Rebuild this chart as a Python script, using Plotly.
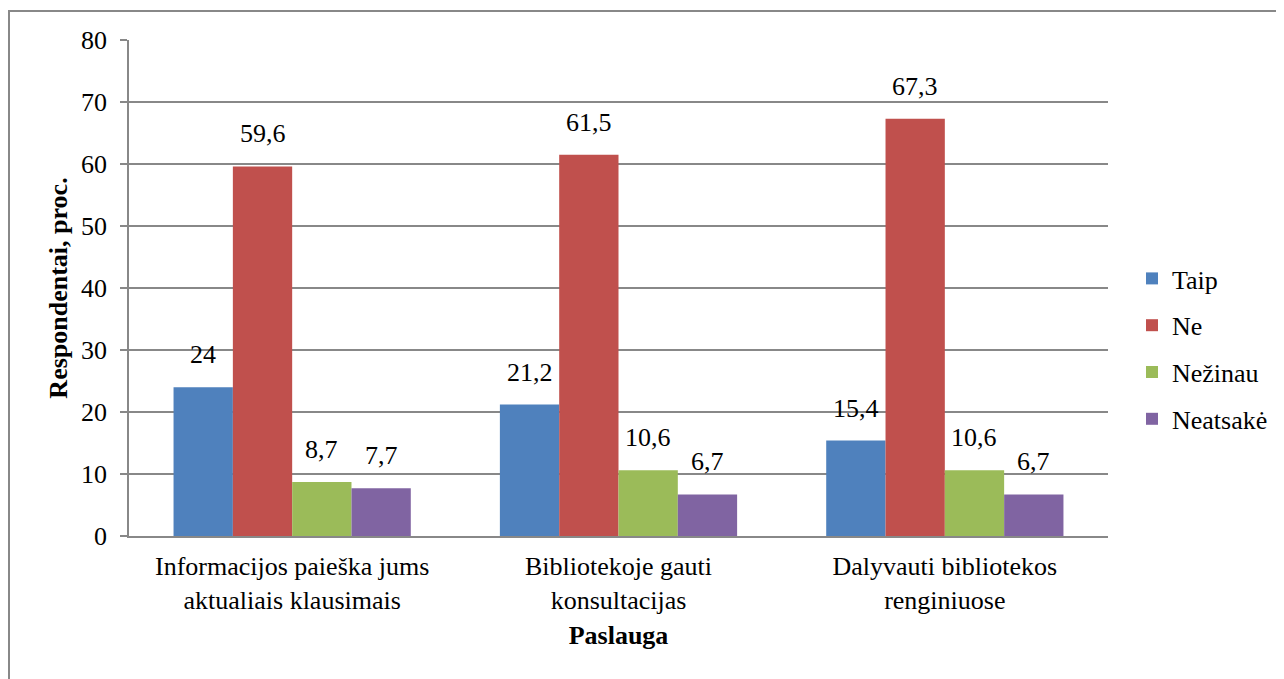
import plotly.graph_objects as go

categories = ["Informacijos paieška jums<br>aktualiais klausimais",
              "Bibliotekoje gauti<br>konsultacijas",
              "Dalyvauti bibliotekos<br>renginiuose"]
series_names = ["Taip", "Ne", "Nežinau", "Neatsakė"]
taip = [24, 21.2, 15.4]
ne = [59.6, 61.5, 67.3]
nezinau = [8.7, 10.6, 10.6]
neatsake = [7.7, 6.7, 6.7]
colors = ["#4F81BD", "#C0504D", "#9BBB59", "#8064A2"]
y_ticks = [0, 10, 20, 30, 40, 50, 60, 70, 80]

FONT = "Liberation Serif"
FS = 26

fig = go.Figure()
all_vals = [taip, ne, nezinau, neatsake]
for i, (name, vals) in enumerate(zip(series_names, all_vals)):
    fig.add_trace(go.Bar(
        x=categories, y=vals, name=name,
        marker=dict(color=colors[i], line=dict(width=0)),
        legendgroup=name,
    ))

OFF = 8
W, H = 1284 - 2 * OFF, 676
L = 129 - OFF
T = 40 - OFF
R = W - (1108 - OFF)
B = H - (536 - OFF)
pw, ph = W - L - R, H - T - B
BARGAP = 0.273
bar_px = pw / len(categories) * (1 - BARGAP) / len(series_names)

def px(page_x):
    return (page_x - OFF - L) / pw

def py(page_y):
    return (H - B - (page_y - OFF)) / ph

def fmt(v):
    return ("%g" % v).replace(".", ",")

annotations = []
for i, vals in enumerate(all_vals):
    for j, v in enumerate(vals):
        annotations.append(dict(
            x=categories[j], y=v, xref="x", yref="y", text=fmt(v), showarrow=False,
            xshift=(i - (len(series_names) - 1) / 2) * bar_px, yshift=16, yanchor="bottom",
            font=dict(family=FONT, size=FS, color="black")))

fig.update_layout(
    width=W, height=H,
    margin=dict(l=L, r=R, t=T, b=B, autoexpand=False),
    paper_bgcolor="white", plot_bgcolor="white",
    barmode="group", bargap=BARGAP, bargroupgap=0,
    font=dict(family=FONT, size=FS, color="black"),
    legend=dict(x=px(1132), y=py(255), xanchor="left", yanchor="top",
                font=dict(family=FONT, size=FS, color="black"),
                tracegroupgap=10, itemwidth=30, bgcolor="rgba(0,0,0,0)"),
    xaxis=dict(showline=True, linecolor="#888888", linewidth=1.5,
               ticks="", ticklabelstandoff=6,
               tickfont=dict(family=FONT, size=FS, color="black"),
               title=dict(text="<b>Paslauga</b>", font=dict(family=FONT, size=FS, color="black"), standoff=12)),
    yaxis=dict(range=[0, 80], tickvals=y_ticks, showgrid=True, gridcolor="#888888", gridwidth=1.5,
               showline=True, linecolor="#888888", linewidth=1.5,
               ticks="outside", ticklen=7, tickcolor="#888888", tickwidth=1.5,
               ticklabelstandoff=8,
               tickfont=dict(family=FONT, size=FS, color="black"),
               zeroline=False,
               title=dict(text="<b>Respondentai, proc.</b>", font=dict(family=FONT, size=FS, color="black"), standoff=6)),
    annotations=annotations,
    shapes=[dict(type="rect", xref="paper", yref="paper",
                 x0=px(9), x1=px(1300), y0=py(720), y1=py(11),
                 line=dict(color="#888888", width=2), fillcolor="rgba(0,0,0,0)", layer="below")],
)

fig.write_html("out.html")
